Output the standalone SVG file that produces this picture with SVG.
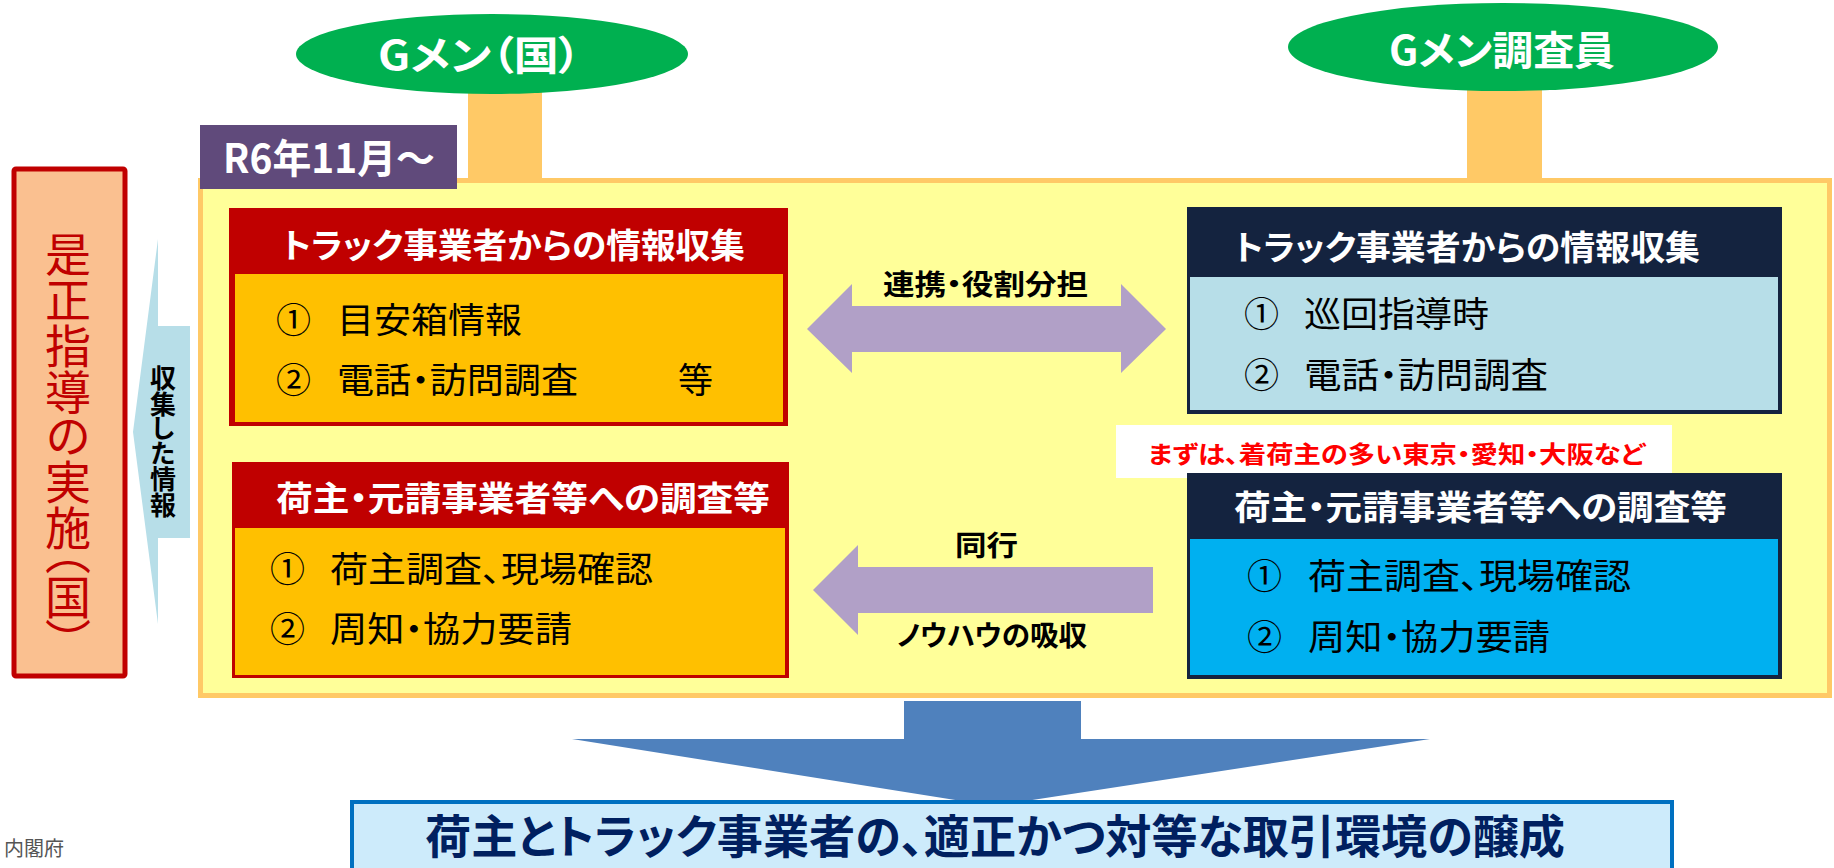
<svg xmlns="http://www.w3.org/2000/svg" width="1834" height="868" viewBox="0 0 1834 868">
<style>
text{font-family:"Noto Sans CJK JP","Noto Sans",sans-serif;font-feature-settings:"palt"}
.hd{fill:#fff;font-weight:700;font-size:34px}
.it{fill:#000;font-size:35px}
.lb{fill:#000;font-weight:700;font-size:28px}
.stem{fill:#FFC966}
.ell{fill:#00B050}
.arr{fill:#B1A0C7}
.red{fill:#C00000}
.navy{fill:#14233F}
.vt{writing-mode:vertical-rl;font-feature-settings:"vpal"}
</style>
<rect width="1834" height="868" fill="#fff"/>
<g id="stems">
 <rect class="stem" x="468" y="88" width="74" height="95"/>
 <rect class="stem" x="1467" y="85" width="75" height="98"/>
</g>
<g id="main-frame">
 <rect x="200.5" y="180.5" width="1629" height="515" fill="#FFFF99" stroke="#FFC966" stroke-width="5"/>
</g>
<g id="gmen-kuni">
 <ellipse class="ell" cx="492" cy="54" rx="196" ry="40"/>
 <text x="378" y="70" textLength="203" lengthAdjust="spacingAndGlyphs" font-size="40" font-weight="700" fill="#fff">Gメン（国）</text>
</g>
<g id="gmen-chosain">
 <ellipse class="ell" cx="1503" cy="47" rx="215" ry="44"/>
 <text x="1389" y="65" textLength="226" lengthAdjust="spacingAndGlyphs" font-size="40" font-weight="700" fill="#fff">Gメン調査員</text>
</g>
<g id="period-label">
 <rect x="200" y="125" width="257" height="64" fill="#604A7B"/>
 <text x="223" y="173" textLength="212" lengthAdjust="spacingAndGlyphs" font-size="40" font-weight="700" fill="#fff">R6年11月〜</text>
</g>
<g id="correction">
 <rect x="14" y="169" width="111" height="507" rx="2" fill="#FAC090" stroke="#C00000" stroke-width="5"/>
 <text class="vt" x="68" y="231" font-size="46" fill="#C00000">是正指導の実施（国）</text>
</g>
<g id="connectors">
 <polygon points="158,239 158,326 190,326 190,538 158,538 158,624 133,432" fill="#B7DEE8"/>
 <text class="vt" x="163" y="365" font-size="26" font-weight="700" fill="#000">収集した情報</text>
 <polygon class="arr" points="807,329 852,284 852,306 1121,306 1121,284 1166,329 1121,373 1121,352 852,352 852,373"/>
 <text class="lb" x="883" y="295" textLength="205" lengthAdjust="spacingAndGlyphs">連携・役割分担</text>
 <polygon class="arr" points="813,590 858,545 858,567 1153,567 1153,613 858,613 858,635"/>
 <text class="lb" x="955" y="556" textLength="63" lengthAdjust="spacingAndGlyphs">同行</text>
 <text class="lb" x="897" y="646" textLength="190" lengthAdjust="spacingAndGlyphs">ノウハウの吸収</text>
 <polygon points="904,701 1081,701 1081,739 1430,739 993,806 572,739 904,739" fill="#4F81BD"/>
</g>
<g id="left-info">
 <rect class="red" x="229" y="208" width="559" height="218"/>
 <rect x="235" y="274" width="548" height="148" fill="#FFC000"/>
 <text class="hd" x="282" y="258" textLength="463" lengthAdjust="spacingAndGlyphs">トラック事業者からの情報収集</text>
 <text class="it" x="276" y="333">①</text>
 <text class="it" x="337" y="333" textLength="185" lengthAdjust="spacingAndGlyphs">目安箱情報</text>
 <text class="it" x="276" y="393">②</text>
 <text class="it" x="337" y="393" textLength="241" lengthAdjust="spacingAndGlyphs">電話・訪問調査</text>
 <text class="it" x="678" y="393">等</text>
</g>
<g id="left-shipper">
 <rect class="red" x="232" y="462" width="557" height="216"/>
 <rect x="235" y="528" width="550" height="147" fill="#FFC000"/>
 <text class="hd" x="276" y="511" textLength="494" lengthAdjust="spacingAndGlyphs">荷主・元請事業者等への調査等</text>
 <text class="it" x="270" y="582">①</text>
 <text class="it" x="330" y="582" textLength="323" lengthAdjust="spacingAndGlyphs">荷主調査、現場確認</text>
 <text class="it" x="270" y="642">②</text>
 <text class="it" x="330" y="642" textLength="242" lengthAdjust="spacingAndGlyphs">周知・協力要請</text>
</g>
<g id="right-info">
 <rect class="navy" x="1187" y="207" width="595" height="207"/>
 <rect x="1190" y="277" width="588" height="133" fill="#B7DEE8"/>
 <text class="hd" x="1234" y="260" textLength="466" lengthAdjust="spacingAndGlyphs">トラック事業者からの情報収集</text>
 <text class="it" x="1244" y="327">①</text>
 <text class="it" x="1304" y="327" textLength="185" lengthAdjust="spacingAndGlyphs">巡回指導時</text>
 <text class="it" x="1244" y="388">②</text>
 <text class="it" x="1304" y="388" textLength="244" lengthAdjust="spacingAndGlyphs">電話・訪問調査</text>
</g>
<g id="note">
 <rect x="1116" y="425" width="556" height="53" fill="#fff"/>
 <text x="1148" y="463" textLength="497" lengthAdjust="spacingAndGlyphs" font-size="24" font-weight="700" fill="#FF0000">まずは、着荷主の多い東京・愛知・大阪など</text>
</g>
<g id="right-shipper">
 <rect class="navy" x="1187" y="473" width="595" height="206"/>
 <rect x="1190" y="539" width="588" height="136" fill="#00B0F0"/>
 <text class="hd" x="1234" y="520" textLength="493" lengthAdjust="spacingAndGlyphs">荷主・元請事業者等への調査等</text>
 <text class="it" x="1247" y="589">①</text>
 <text class="it" x="1308" y="589" textLength="323" lengthAdjust="spacingAndGlyphs">荷主調査、現場確認</text>
 <text class="it" x="1247" y="650">②</text>
 <text class="it" x="1308" y="650" textLength="242" lengthAdjust="spacingAndGlyphs">周知・協力要請</text>
</g>
<g id="goal">
 <rect x="352" y="802" width="1320" height="90" fill="#CDEBFB" stroke="#0070C0" stroke-width="4"/>
 <text x="425" y="853" textLength="1140" lengthAdjust="spacingAndGlyphs" font-size="46" font-weight="700" fill="#002060">荷主とトラック事業者の、適正かつ対等な取引環境の醸成</text>
</g>
<g id="credit">
 <text x="4" y="856" font-size="20" fill="#555">内閣府</text>
</g>
</svg>
